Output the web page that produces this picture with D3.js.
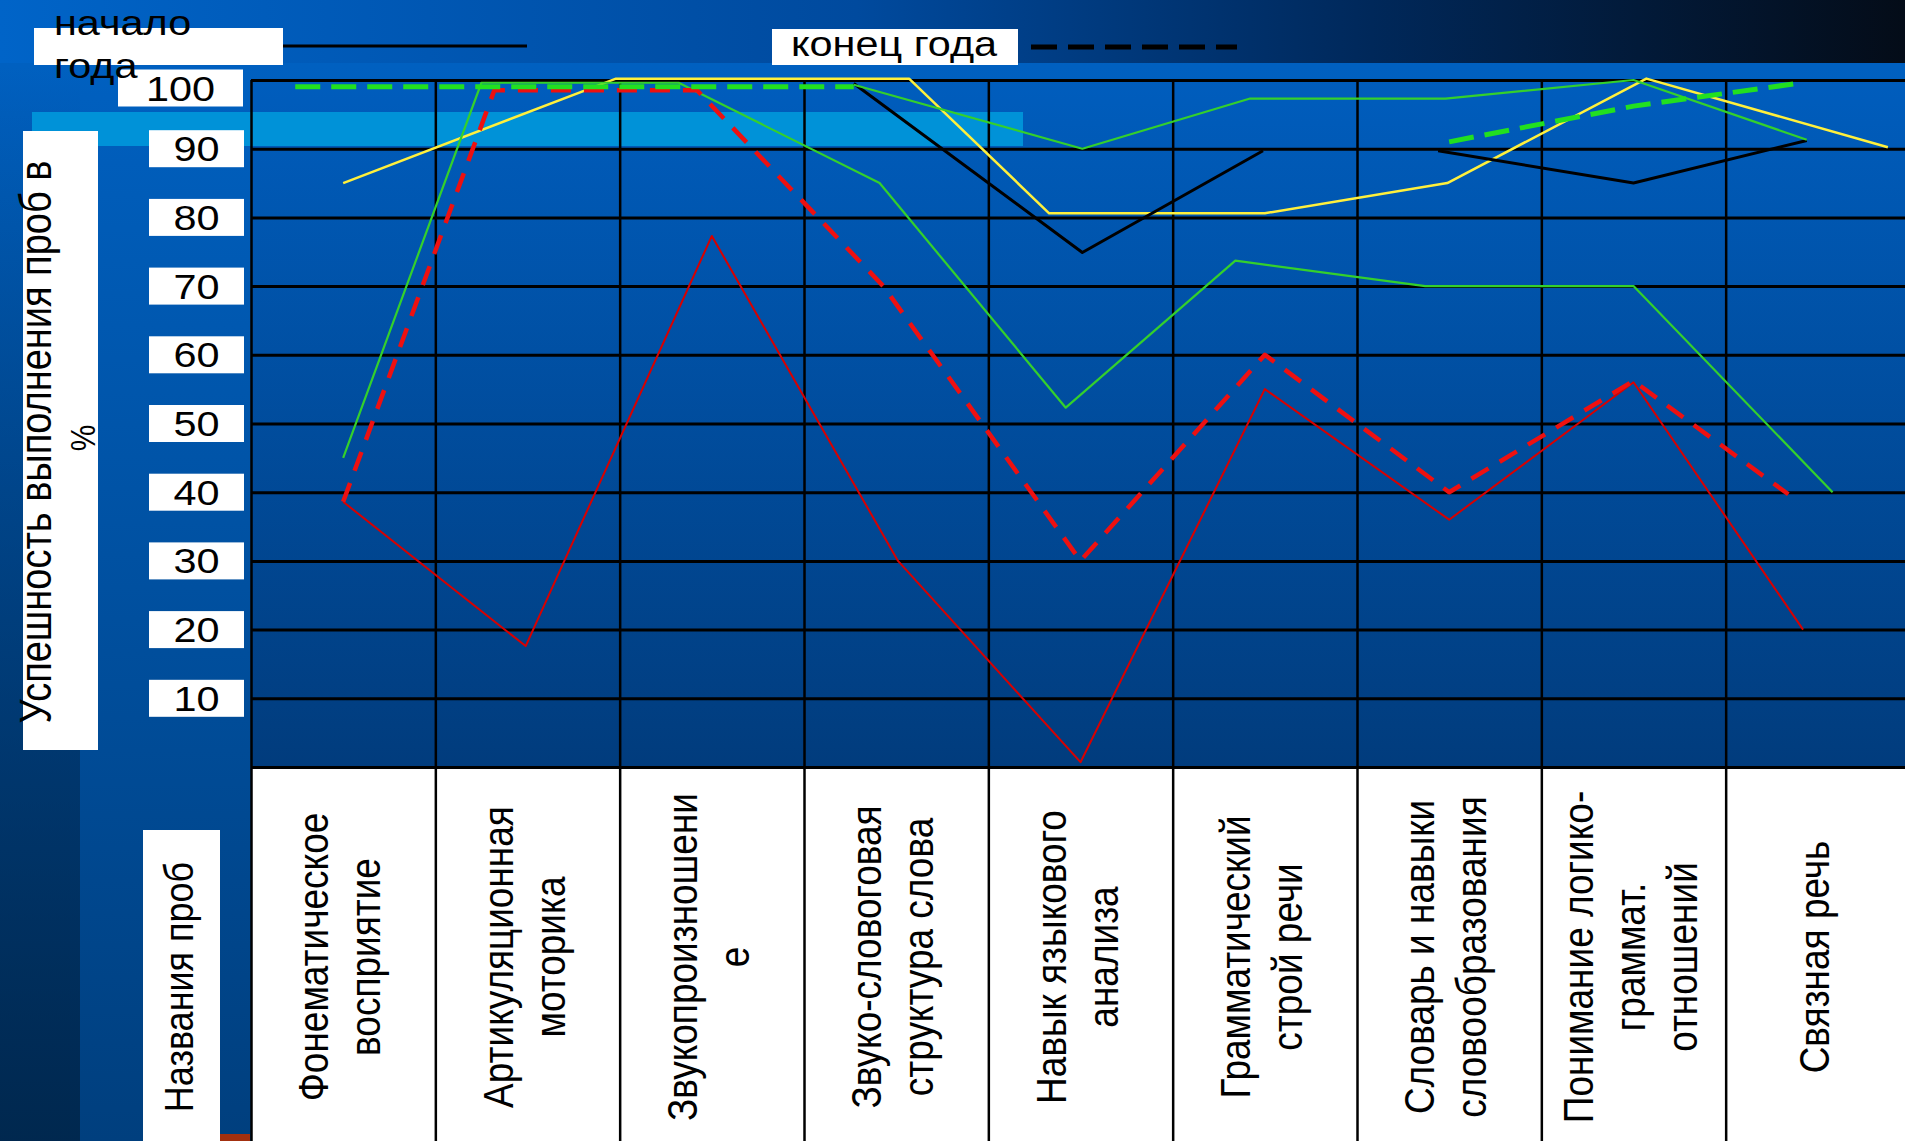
<!DOCTYPE html>
<html>
<head>
<meta charset="utf-8">
<script src="https://cdn.jsdelivr.net/npm/d3@7"></script>
<style>
    html, body { margin: 0; padding: 0; overflow: hidden; background: #0058b0; }
    text { font-family: "Liberation Sans", Arial, sans-serif; fill: #000; }
</style>
</head>
<body>
<div id="chart"></div>
<script>
// names of the probes, split into lines as on the slide
var categories = [
    ["Фонематическое", "восприятие"],
    ["Артикуляционная", "моторика"],
    ["Звукопроизношени", "е"],
    ["Звуко-словоговая", "структура слова"],
    ["Навык языкового", "анализа"],
    ["Грамматический", "строй речи"],
    ["Словарь и навыки", "словообразования"],
    ["Понимание логико-", "граммат.", "отношений"],
    ["Связная речь"]
];
var yTicks = [10, 20, 30, 40, 50, 60, 70, 80, 90, 100];
var yTickLabels = ["10", "20", "30", "40", "50", "60", "70", "80", "90", "100"];
var yTitle = ["Успешность выполнения проб в", "%"];
var xTitle = "Названия проб";

// lines were drawn by hand on the slide, so each vertex keeps its own
// place along the category axis (0.5 = middle of the first column)
var redStartX = [0.5, 1.49, 2.5, 3.51, 4.5, 5.5, 6.5, 7.5, 8.42];
var redStartV = [38.6, 17.6, 77.3, 30, 0.7, 55, 36, 56, 20];

var redEndX = [0.5, 1.32, 2.42, 3.43, 4.5, 5.5, 6.5, 7.5, 8.34];
var redEndV = [38.6, 98.5, 98.5, 70, 30, 60, 40, 56.2, 39.7];

var greenAX = [0.5, 1.25, 2.32, 3.41, 4.42, 5.34, 6.37, 7.5, 8.58];
var greenAV = [45, 99.6, 99.6, 85, 52.3, 73.7, 70, 70, 40];

var greenBX = [3.27, 4.51, 5.42, 6.48, 7.5, 8.44];
var greenBV = [99.3, 90, 97.3, 97.3, 100, 91.3];

// null = break in the line
var greenEndX = [0.24, 3.27, null, 6.5, 7.5, 8.39];
var greenEndV = [99, 99, null, 91, 96.2, 99.5];

var blackX = [3.27, 4.51, 5.49, null, 6.44, 7.5, 8.44];
var blackV = [99.5, 74.9, 89.7, null, 89.7, 85, 91.2];

var yellowX = [0.5, 1.98, 3.57, 4.33, 5.5, 6.49, 7.57, 8.88];
var yellowV = [85, 100.2, 100.2, 80.6, 80.6, 85, 100.2, 90.2];

var W = 1905, H = 1141;
var sx = 1.15; // the slide was stretched sideways, text included
var plot = { left: 251, right: 1910, top: 80, bottom: 767 };

var x = d3.scaleLinear().domain([0, categories.length]).range([plot.left, plot.right]);
var y = d3.scaleLinear().domain([0, 100]).range([plot.bottom, plot.top]);

var svg = d3.select("#chart").append("svg")
    .attr("width", W)
    .attr("height", H);

var defs = svg.append("defs");
function grad(id, x2, y2, stops) {
    var g = defs.append("linearGradient").attr("id", id)
        .attr("x1", 0).attr("y1", 0).attr("x2", x2).attr("y2", y2);
    stops.forEach(function(s) {
        g.append("stop").attr("offset", s[0]).attr("stop-color", s[1]).attr("stop-opacity", s[2] == null ? 1 : s[2]);
    });
}
grad("bg", 0, 1, [[0, "#0062c4"], [1, "#003f7e"]]);
grad("top", 1, 0, [[0, "#0064c8"], [0.45, "#004a9e"], [0.72, "#00285a"], [1, "#040c18"]]);
grad("left", 0, 1, [[0, "#00264f", 0], [1, "#00203f", 0.75]]);
grad("plotbg", 0, 1, [[0, "#005dbd"], [1, "#013c7d"]]);

// slide background
svg.append("rect").attr("width", W).attr("height", H).attr("fill", "url(#bg)");
svg.append("rect").attr("x", 0).attr("y", 63).attr("width", 80).attr("height", H - 63).attr("fill", "url(#left)");
svg.append("rect").attr("width", W).attr("height", 63).attr("fill", "url(#top)");

// plot area
svg.append("rect")
    .attr("x", plot.left).attr("y", plot.top)
    .attr("width", W - plot.left).attr("height", plot.bottom - plot.top)
    .attr("fill", "url(#plotbg)");

// light stripe of the slide template
svg.append("rect").attr("x", 32).attr("y", 112).attr("width", 991).attr("height", 34).attr("fill", "#0092d8");

// table with the probe names
svg.append("rect")
    .attr("x", plot.left).attr("y", plot.bottom)
    .attr("width", W - plot.left).attr("height", H - plot.bottom)
    .attr("fill", "#fff");

// horizontal grid
var yGrid = svg.append("g")
    .attr("transform", "translate(" + plot.left + ",0)")
    .call(d3.axisLeft(y).tickValues([0].concat(yTicks)).tickSize(-(W - plot.left)).tickFormat(""));
yGrid.select(".domain").remove();
yGrid.selectAll("line").attr("stroke", "#000").attr("stroke-width", 3);

// vertical grid, running down through the table
var xGrid = svg.append("g")
    .attr("transform", "translate(0," + H + ")")
    .call(d3.axisTop(x).tickValues(d3.range(0, categories.length + 1)).tickSize(H - plot.top).tickFormat(""));
xGrid.select(".domain").remove();
xGrid.selectAll("line").attr("stroke", "#000").attr("stroke-width", 2.5);

// text helpers
function hText(x0, y0, str, size, anchor) {
    return svg.append("text")
        .attr("transform", "translate(" + x0 + "," + y0 + ") scale(" + sx + ",1)")
        .attr("text-anchor", anchor || "start")
        .style("font-size", size + "px")
        .text(str);
}
// reads bottom to top; bx is the baseline on screen, cy the middle of the text
function vText(bx, cy, str, size) {
    return svg.append("text")
        .attr("transform", "translate(" + bx + "," + cy + ") scale(" + sx + ",1) rotate(-90)")
        .attr("text-anchor", "middle")
        .style("font-size", size + "px")
        .text(str);
}

// y tick labels in white boxes
yTicks.forEach(function(t, i) {
    var cy = y(t);
    var bx = 149, bw = 95;
    if (t === 100) { bx = 118; bw = 125; cy = 88; }
    svg.append("rect").attr("x", bx).attr("y", cy - 18.5).attr("width", bw).attr("height", 37).attr("fill", "#fff");
    hText(bx + bw / 2, cy + 12.5, yTickLabels[i], 36, "middle");
});

// axis titles
svg.append("rect").attr("x", 23).attr("y", 131).attr("width", 75).attr("height", 619).attr("fill", "#fff");
vText(51, 442, yTitle[0], 38);
vText(95, 438, yTitle[1], 30);

svg.append("rect").attr("x", 143).attr("y", 830).attr("width", 77).attr("height", H - 830).attr("fill", "#fff");
svg.append("rect").attr("x", 220).attr("y", 1134).attr("width", 30).attr("height", 7).attr("fill", "#a3300f");
vText(193, 987, xTitle, 36);

// category labels
categories.forEach(function(lines, i) {
    var cx = x(i + 0.5);
    lines.forEach(function(line, k) {
        var c = cx + (k - (lines.length - 1) / 2) * 52;
        vText(c + 11, 957, line, 37);
    });
});

// series
var line = d3.line()
    .defined(function(d) { return d[0] != null; })
    .x(function(d) { return x(d[0]); })
    .y(function(d) { return y(d[1]); });

function drawSeries(xs, vs, color, width, dash) {
    svg.append("path")
        .datum(d3.zip(xs, vs))
        .attr("fill", "none")
        .attr("stroke", color)
        .attr("stroke-width", width)
        .attr("stroke-linejoin", "round")
        .attr("stroke-dasharray", dash || null)
        .attr("d", line);
}

drawSeries(yellowX, yellowV, "#fff03c", 2.5);
drawSeries(blackX, blackV, "#000", 3);
drawSeries(redStartX, redStartV, "#d80000", 2);
drawSeries(greenAX, greenAV, "#34d02c", 2.2);
drawSeries(greenBX, greenBV, "#34d02c", 2.2);
drawSeries(redEndX, redEndV, "#ee1010", 4.5, "20,13");
drawSeries(greenEndX, greenEndV, "#22e020", 5, "25,11");

// legend
svg.append("rect").attr("x", 34).attr("y", 28).attr("width", 249).attr("height", 37).attr("fill", "#fff");
hText(54, 35, "начало", 36);
hText(54, 78, "года", 36);
svg.append("line").attr("x1", 283).attr("x2", 527).attr("y1", 46).attr("y2", 46)
    .attr("stroke", "#000").attr("stroke-width", 3);

svg.append("rect").attr("x", 772).attr("y", 29).attr("width", 246).attr("height", 36).attr("fill", "#fff");
hText(791, 56, "конец года", 36);
svg.append("line").attr("x1", 1031).attr("x2", 1237).attr("y1", 47).attr("y2", 47)
    .attr("stroke", "#000").attr("stroke-width", 5).attr("stroke-dasharray", "26,11");
</script>
</body>
</html>
